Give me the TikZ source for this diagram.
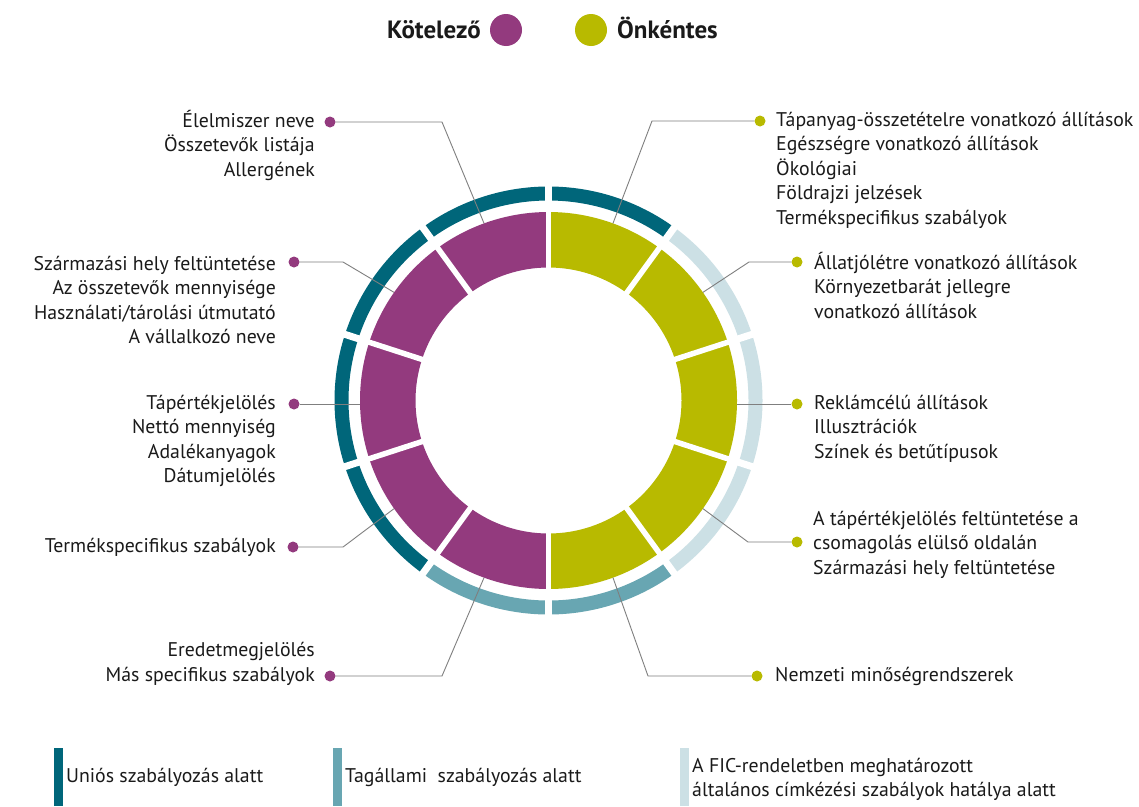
\documentclass[tikz,border=0pt]{standalone}
\usepackage{fontspec}
\setmainfont{PT Sans}
\definecolor{mag}{HTML}{933A7E}
\definecolor{oli}{HTML}{B8BA00}
\definecolor{tdark}{HTML}{00667A}
\definecolor{tmid}{HTML}{68A6B2}
\definecolor{tlight}{HTML}{CCE0E5}
\definecolor{txt}{HTML}{1A1A1A}
\definecolor{lead}{HTML}{7F7F7F}
\tikzset{
  lab/.style={font=\fontsize{19.8}{24.5}\selectfont, text=txt, inner sep=0pt},
  ttl/.style={font=\bfseries\fontsize{25}{28}\selectfont, text=txt, inner sep=0pt},
  leader/.style={draw=lead, line width=0.9pt},
  kdot/.style={circle, fill=mag, minimum size=11pt, inner sep=0pt},
  odot/.style={circle, fill=oli, minimum size=11pt, inner sep=0pt},
  bigdot/.style={circle, minimum size=32pt, inner sep=0pt},
  gapline/.style={draw=white, line width=5.5pt},
  ogapline/.style={draw=white, line width=7pt},
}
\newcommand{\Lines}[2]{\begin{tabular}[t]{@{}#1@{}}#2\end{tabular}}
\begin{document}
\begin{tikzpicture}[x=1pt,y=-1pt]
\useasboundingbox[fill=white] (0,0) rectangle (1139,806);

% ---- title legend
\node[ttl, anchor=base east] (tk) at (481,38) {Kötelező};
\node[bigdot, fill=mag] (tkd) at (506,30) {};
\node[bigdot, fill=oli] (tod) at (591,30) {};
\node[ttl, anchor=base west] (to) at (617,38) {Önkéntes};

% ---- rings
\begin{scope}[shift={(548.5,400.5)}, y=1pt]
  \foreach \a/\b in {-90/-54,-54/-18,-18/18,18/54,54/90}
    \fill[oli] (\a:133) arc[start angle=\a, end angle=\b, radius=133] -- (\b:188.5) arc[start angle=\b, end angle=\a, radius=188.5] -- cycle;
  \foreach \a/\b in {90/126,126/162,162/198,198/234,234/270}
    \fill[mag] (\a:133) arc[start angle=\a, end angle=\b, radius=133] -- (\b:188.5) arc[start angle=\b, end angle=\a, radius=188.5] -- cycle;
  \foreach \a/\b/\c in {54/90/tdark,18/54/tlight,-18/18/tlight,-54/-18/tlight,-90/-54/tmid,-126/-90/tmid,-162/-126/tdark,162/198/tdark,126/162/tdark,90/126/tdark}
    \fill[\c] (\a:200) arc[start angle=\a, end angle=\b, radius=200] -- (\b:214) arc[start angle=\b, end angle=\a, radius=214] -- cycle;
  \foreach \a in {90,54,18,-18,-54,-90,-126,-162,162,126}{
    \draw[gapline] (\a:128) -- (\a:192);
    \draw[ogapline] (\a:196) -- (\a:218);
  }
  \coordinate (s1) at (70:188.5);
  \coordinate (s2) at (35:188.5);
  \coordinate (s4) at (-35:188.5);
  \coordinate (s5) at (-70:188.5);
  \coordinate (t1) at (110:188.5);
  \coordinate (t2) at (145:188.5);
  \coordinate (t4) at (-145:188.5);
  \coordinate (t5) at (-110:188.5);
\end{scope}
\coordinate (s3) at (737,404);
\coordinate (t3) at (360,404);

% ---- elbows
\coordinate (e1) at (652,121);
\coordinate (e2) at (749,262);
\coordinate (e4) at (748,542);
\coordinate (e5) at (648,676);
\coordinate (f1) at (442,122);
\coordinate (f2) at (343,262);
\coordinate (f4) at (343,547);
\coordinate (f5) at (442,676);

% ---- dots
\node[odot] (d1) at (760,121) {};
\node[odot] (d2) at (797,262) {};
\node[odot] (d3) at (797,404) {};
\node[odot] (d4) at (797,542) {};
\node[odot] (d5) at (757,676) {};
\node[kdot] (k1) at (330,122) {};
\node[kdot] (k2) at (294,262) {};
\node[kdot] (k3) at (294,404) {};
\node[kdot] (k4) at (293,547) {};
\node[kdot] (k5) at (330,676) {};

% ---- connectors
\draw[leader] (s1) -- (e1) -- (d1);
\draw[leader] (s2) -- (e2) -- (d2);
\draw[leader] (s3) -- (d3);
\draw[leader] (s4) -- (e4) -- (d4);
\draw[leader] (s5) -- (e5) -- (d5);
\draw[leader] (t1) -- (f1) -- (k1);
\draw[leader] (t2) -- (f2) -- (k2);
\draw[leader] (t3) -- (k3);
\draw[leader] (t4) -- (f4) -- (k4);
\draw[leader] (t5) -- (f5) -- (k5);

% ---- labels right
\node[lab, anchor=base west] (r1) at (776,126) {\Lines{l}{Tápanyag-összetételre vonatkozó állítások\\Egészségre vonatkozó állítások\\Ökológiai\\Földrajzi jelzések\\Termékspecifikus szabályok}};
\node[lab, anchor=base west] (r2) at (814,269) {\Lines{l}{Állatjólétre vonatkozó állítások\\Környezetbarát jellegre\\vonatkozó állítások}};
\node[lab, anchor=base west] (r3) at (814,409) {\Lines{l}{Reklámcélú állítások\\Illusztrációk\\Színek és betűtípusok}};
\node[lab, anchor=base west] (r4) at (813,525) {\Lines{l}{A tápértékjelölés feltüntetése a\\csomagolás elülső oldalán\\Származási hely feltüntetése}};
\node[lab, anchor=base west] (r5) at (775,681) {Nemzeti minőségrendszerek};

% ---- labels left
\node[lab, anchor=base east] (l1) at (315,127) {\Lines{r}{Élelmiszer neve\\Összetevők listája\\Allergének}};
\node[lab, anchor=base east] (l2) at (276,270) {\Lines{r}{Származási hely feltüntetése\\Az összetevők mennyisége\\Használati/tárolási útmutató\\A vállalkozó neve}};
\node[lab, anchor=base east] (l3) at (276,409) {\Lines{r}{Tápértékjelölés\\Nettó mennyiség\\Adalékanyagok\\Dátumjelölés}};
\node[lab, anchor=base east] (l4) at (276,552) {Termékspecifikus szabályok};
\node[lab, anchor=base east] (l5) at (315,656.5) {\Lines{r}{Eredetmegjelölés\\Más specifikus szabályok}};

% ---- bottom legend
\fill[tdark] (54,748) rectangle (63,806);
\fill[tmid] (333,748) rectangle (342,806);
\fill[tlight] (680,748) rectangle (689,806);
\node[lab, anchor=base west] (b1) at (66,782) {Uniós szabályozás alatt};
\node[lab, anchor=base west] (b2) at (345,782) {Tagállami~~szabályozás alatt};
\node[lab, anchor=base west] (b3) at (692,772) {\Lines{l}{A FIC-rendeletben meghatározott\\általános címkézési szabályok hatálya alatt}};
\end{tikzpicture}
\end{document}
